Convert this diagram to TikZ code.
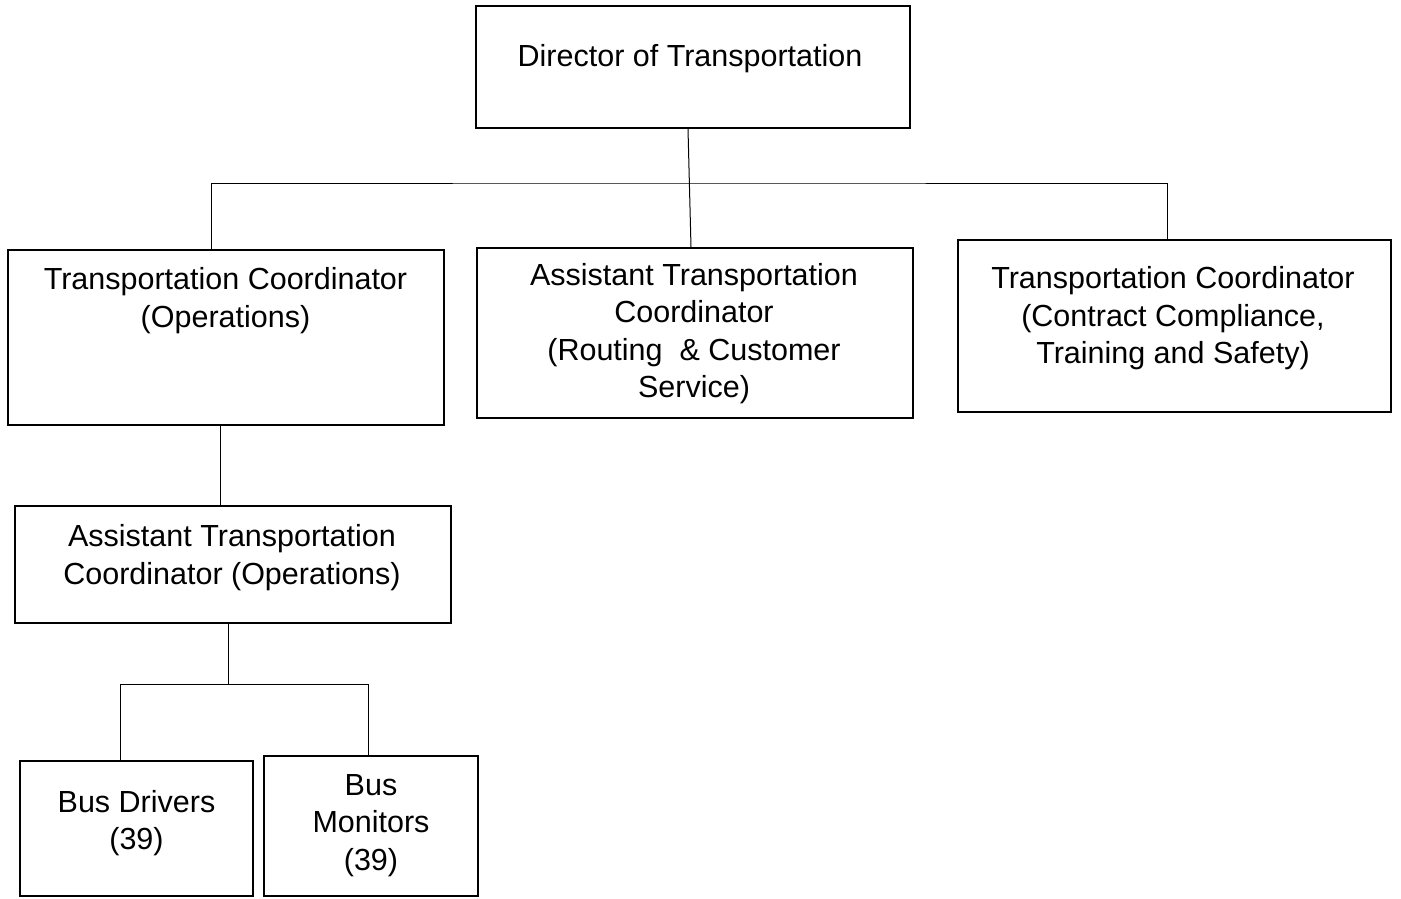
\documentclass[tikz,border=0pt]{standalone}
\usepackage{fontspec}
\setmainfont{Liberation Sans}
\usetikzlibrary{positioning,calc}

\tikzset{
  post/.style={draw,line width=1.6pt,rectangle,inner sep=0pt},
  title/.style={align=center,inner sep=0pt,font=\fontsize{30.5}{37.5}\selectfont},
  link/.style={line width=1pt}
}

\begin{document}
\begin{tikzpicture}[x=1pt,y=-1pt]
			\useasboundingbox (0,0) rectangle (1401,898);
			% boxes
			\node[post,minimum width=434pt,minimum height=122pt] (dir) at (693,67) {};
			\node[post,minimum width=436pt,minimum height=175pt] (tco) at (226,337.5) {};
			\node[post,minimum width=436pt,minimum height=170pt] (atcr) at (695,333) {};
			\node[post,minimum width=433pt,minimum height=172pt] (tcc) at (1174.5,326) {};
			\node[post,minimum width=436pt,minimum height=117pt] (atco) at (233,564.5) {};
			\node[post,minimum width=233pt,minimum height=135pt] (drv) at (136.5,828.5) {};
			\node[post,minimum width=214pt,minimum height=140pt] (mon) at (371,826) {};
			% texts
			\node[title] (dirtxt) at (690,59) {Director of Transportation};
			\node[title] (tcotxt) at (225.5,300.8) {Transportation Coordinator\\(Operations)};
			\node[title] (atcrtxt) at (694,333.5) {Assistant Transportation\\Coordinator\\(Routing\ \ \& Customer\\Service)};
			\node[title] (tcctxt) at (1173,318.3) {Transportation Coordinator\\(Contract Compliance,\\Training and Safety)};
			\node[title] (atcotxt) at (232,557.5) {Assistant Transportation\\Coordinator (Operations)};
			\node[title] (drvtxt) at (136.5,822.9) {Bus Drivers\\(39)};
			\node[title] (montxt) at (371,825.5) {Bus\\Monitors\\(39)};
			% lines
			\coordinate (bus) at (689,183);
			\coordinate (bus2) at (228,684);
			\draw[link] ([xshift=-5pt]dir.south) -- ([xshift=-4pt]atcr.north);
			\draw[link] ([xshift=-15pt]tco.north) |- (bus) -| ([xshift=-7pt]tcc.north);
			\draw[link] ([xshift=-6pt]tco.south) -- ([xshift=-13pt]atco.north);
			\draw[link] ([xshift=-5pt]atco.south) -- (bus2);
			\draw[link] ([xshift=-16pt]drv.north) |- (bus2) -| ([xshift=-3pt]mon.north);
		\end{tikzpicture}
\end{document}
